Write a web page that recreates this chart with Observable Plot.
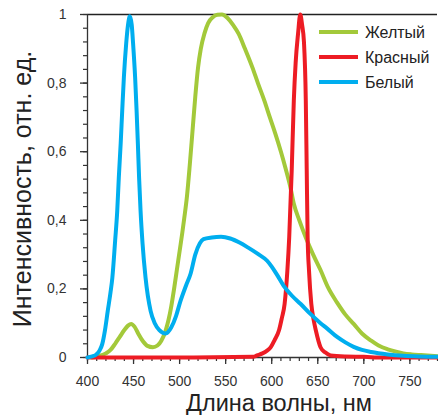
<!DOCTYPE html>
<html>
<head>
<meta charset="utf-8">
<script src="https://cdn.jsdelivr.net/npm/d3@7"></script>
<script src="https://cdn.jsdelivr.net/npm/@observablehq/plot@0.6"></script>
<style>
  body { margin: 0; background: #fff; }
  #chart { width: 438px; height: 415px; }
</style>
</head>
<body>
<div id="chart"></div>
<script>
// LED emission spectra, relative intensity vs wavelength (nm)
const seriesNames = ["Желтый", "Красный", "Белый"];
const seriesColors = ["#a3c93a", "#ed1c24", "#00aeef"];

const yellowNm  = [405, 410, 420, 425, 430, 435, 440, 444, 447.5, 451, 455, 460, 465, 471, 476, 480, 485, 488, 491, 494, 497, 500, 503, 505, 508, 511, 514, 517, 520, 523, 527, 531, 536, 541, 546, 552, 558, 564, 571, 579, 585, 592, 598, 604, 610, 615, 620, 624, 630, 637, 645, 653, 661, 671, 680, 689, 698, 708, 716, 726, 735, 743, 752, 762, 780];
const yellowVal = [0, 0.003, 0.012, 0.022, 0.04, 0.06, 0.08, 0.093, 0.098, 0.09, 0.07, 0.048, 0.034, 0.03, 0.035, 0.048, 0.08, 0.11, 0.15, 0.2, 0.255, 0.31, 0.365, 0.405, 0.47, 0.56, 0.66, 0.76, 0.845, 0.9, 0.945, 0.975, 0.992, 0.999, 1.0, 0.99, 0.97, 0.944, 0.9, 0.846, 0.8, 0.749, 0.7, 0.652, 0.6, 0.552, 0.5, 0.448, 0.4, 0.35, 0.3, 0.255, 0.205, 0.16, 0.125, 0.098, 0.07, 0.049, 0.035, 0.024, 0.017, 0.012, 0.009, 0.007, 0.004];

const redNm  = [400, 500, 580, 584, 590, 595, 599, 603, 608, 611, 614, 617, 619, 621.7, 624, 626, 628.6, 631, 633, 635, 637, 638, 639, 640.5, 643, 645.5, 648, 653, 658, 664, 680, 700, 720, 780];
const redVal = [0, 0, 0.002, 0.006, 0.012, 0.02, 0.03, 0.05, 0.08, 0.115, 0.156, 0.253, 0.35, 0.544, 0.749, 0.86, 0.944, 1.0, 0.97, 0.92, 0.75, 0.55, 0.35, 0.253, 0.156, 0.11, 0.078, 0.03, 0.015, 0.006, 0.003, 0.002, 0, 0];

const whiteNm  = [400, 405, 410, 413, 416, 419, 422, 425, 427, 430, 432.3, 434, 436, 437.7, 439.5, 442, 444, 446, 448, 449.5, 451.7, 453.3, 454.7, 456, 457.6, 459.8, 463, 468.5, 473, 478, 485, 491, 496, 501, 507, 512, 517, 522, 526, 535, 545, 555, 565, 574, 585, 595, 600, 606, 613, 622, 631.5, 642, 653, 660, 671, 680, 689, 698, 708, 726, 743, 760, 780];
const whiteVal = [0, 0.003, 0.01, 0.02, 0.039, 0.08, 0.136, 0.19, 0.233, 0.34, 0.428, 0.525, 0.623, 0.72, 0.817, 0.915, 0.97, 0.995, 0.97, 0.915, 0.817, 0.72, 0.623, 0.525, 0.428, 0.331, 0.233, 0.136, 0.1, 0.08, 0.07, 0.088, 0.12, 0.165, 0.21, 0.245, 0.3, 0.333, 0.345, 0.35, 0.352, 0.347, 0.335, 0.321, 0.302, 0.282, 0.265, 0.24, 0.209, 0.18, 0.156, 0.127, 0.1, 0.085, 0.06, 0.044, 0.031, 0.022, 0.016, 0.009, 0.005, 0.003, 0.002];

const xTicks = [400, 450, 500, 550, 600, 650, 700, 750];
const yTicks = [0, 0.2, 0.4, 0.6, 0.8, 1];
const xTitle = "Длина волны, нм";
const yTitle = "Интенсивность, отн. ед.";

const toRows = (name, nm, val) => nm.map((w, i) => ({name, nm: w, v: val[i]}));
const rows = [
  ...toRows(seriesNames[0], yellowNm, yellowVal),
  ...toRows(seriesNames[1], redNm, redVal),
  ...toRows(seriesNames[2], whiteNm, whiteVal)
];

const axisColor = "#333";
const font = "'Liberation Sans', Arial, sans-serif";

const plot = Plot.plot({
  width: 438,
  height: 415,
  marginLeft: 87,
  marginRight: 1,
  marginTop: 14,
  marginBottom: 58,
  style: {fontFamily: font, fontSize: "14px", color: axisColor, background: "#fff", overflow: "visible"},
  x: {domain: [400, 780]},
  y: {domain: [0, 1]},
  color: {domain: seriesNames, range: seriesColors},
  marks: [
    // frame: top border, left and bottom axis lines
    Plot.ruleY([1], {stroke: "#222", strokeWidth: 1.3}),
    Plot.ruleX([400], {stroke: axisColor, strokeWidth: 1.3}),
    Plot.ruleY([0], {stroke: axisColor, strokeWidth: 1.3}),
    // minor ticks
    Plot.axisX(d3.range(400, 781, 10), {tickSize: 4, text: null, stroke: axisColor, strokeWidth: 1.2, label: null}),
    Plot.axisY(d3.range(0, 26).map(i => i * 0.04), {tickSize: 4, text: null, stroke: axisColor, strokeWidth: 1.2, label: null}),
    // major ticks with labels
    Plot.axisX(xTicks, {tickSize: 7, tickPadding: 12, stroke: axisColor, strokeWidth: 1.3, fontSize: 14, label: null, tickFormat: d => String(d)}),
    Plot.axisY(yTicks, {tickSize: 7, tickPadding: 14, stroke: axisColor, strokeWidth: 1.3, fontSize: 14, label: null, tickFormat: d => String(d).replace(".", ",")}),
    // spectra
    Plot.line(rows, {x: "nm", y: "v", z: "name", stroke: "name", strokeWidth: 4, curve: "monotone-x", strokeLinejoin: "round"})
  ]
});

const svg = d3.select(plot);

// axis titles
svg.append("text")
  .attr("x", 279).attr("y", 411)
  .attr("text-anchor", "middle")
  .attr("font-family", font).attr("font-size", 23.5).attr("fill", "#222")
  .text(xTitle);

svg.append("text")
  .attr("transform", "translate(31,189) rotate(-90)")
  .attr("text-anchor", "middle")
  .attr("font-family", font).attr("font-size", 25).attr("fill", "#222")
  .text(yTitle);

// legend
const legend = svg.append("g");
seriesNames.forEach((name, i) => {
  const y = 32 + i * 25;
  legend.append("line")
    .attr("x1", 319).attr("x2", 358).attr("y1", y).attr("y2", y)
    .attr("stroke", seriesColors[i]).attr("stroke-width", 4);
  legend.append("text")
    .attr("x", 365).attr("y", y + 5.5)
    .attr("text-anchor", "start")
    .attr("font-family", font).attr("font-size", 16).attr("fill", "#222")
    .text(name);
});

document.getElementById("chart").append(plot);
</script>
</body>
</html>
